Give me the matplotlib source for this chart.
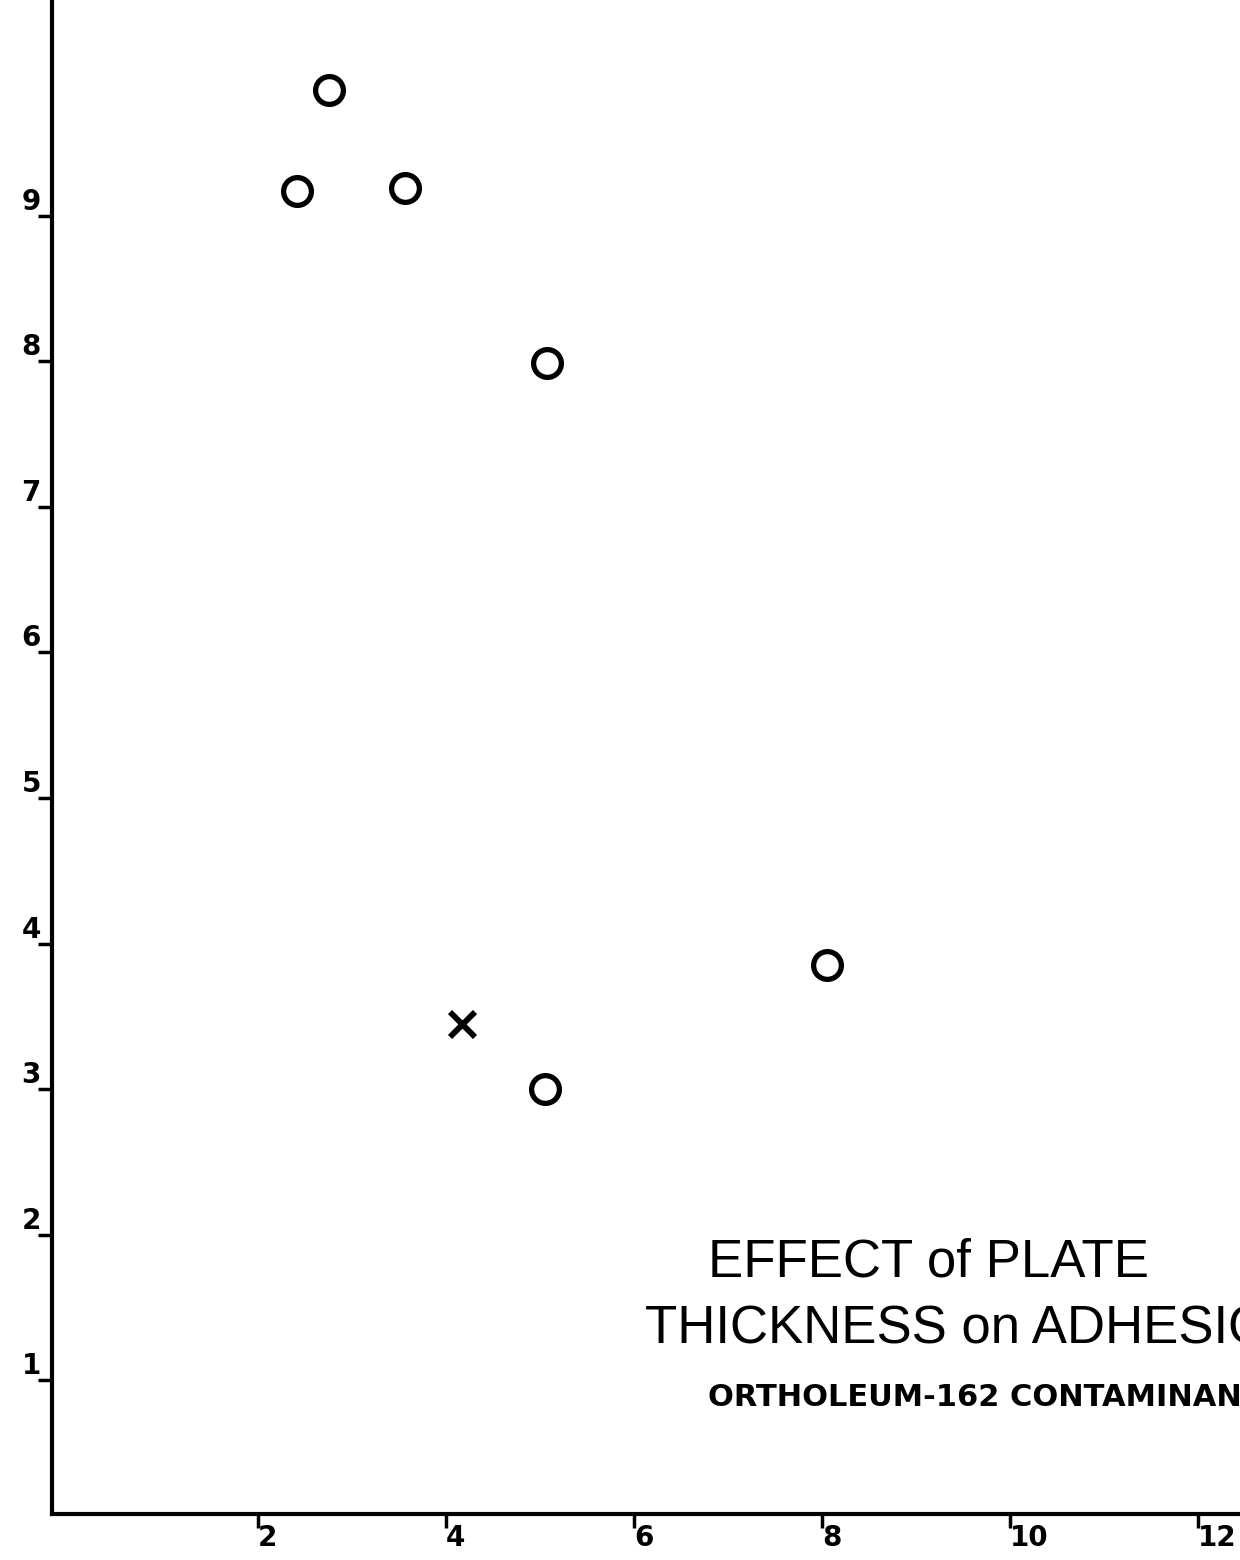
import matplotlib.pyplot as plt

# plate thickness vs adhesion
circle_x = [2.42, 2.76, 3.56, 5.07, 5.05, 8.05]
circle_y = [9.17, 9.86, 9.19, 7.99, 3.00, 3.85]
cross_x = [4.17]
cross_y = [3.45]

x_ticks = [2, 4, 6, 8, 10, 12]
y_ticks = [1, 2, 3, 4, 5, 6, 7, 8, 9]

fig = plt.figure(figsize=(12.4, 15.6), dpi=100)
# axes box: left edge at 52 px, bottom at 1514 px (scan is slightly tilted)
ax = fig.add_axes([52 / 1240, 46 / 1560, 1 - 52 / 1240, 1 - 46 / 1560])
ax.set_xlim(-18 / 94, 12.45 - 18 / 94 + 18 / 94)
ax.set_xlim(-18 / 94, (1240 - 70) / 94)
ax.set_ylim(12 / 145.6, 1526 / 145.6)

ax.plot(circle_x, circle_y, 'o', ms=20, mfc='white', mec='black', mew=3.8, clip_on=False)
ax.plot(cross_x, cross_y, 'x', ms=18, mec='black', mew=4.2, clip_on=False)

for s in ['top', 'right']:
    ax.spines[s].set_visible(False)
for s in ['left', 'bottom']:
    ax.spines[s].set_linewidth(3)

ax.set_xticks(x_ticks)
ax.set_yticks(y_ticks)
ax.set_xticklabels([str(v) for v in x_ticks])
ax.set_yticklabels([str(v) for v in y_ticks])
ax.tick_params(axis='both', direction='out', length=10, width=2.5, labelsize=20)
ax.tick_params(axis='y', pad=-2)
ax.tick_params(axis='x', pad=-3)
for lab in ax.get_yticklabels():
    lab.set_fontweight('bold')
    lab.set_va('bottom')
for lab in ax.get_xticklabels():
    lab.set_fontweight('bold')
    lab.set_ha('left')

ax.text(6.79, 1.81, 'EFFECT of PLATE', fontsize=38, family='Liberation Sans',
        va='center', ha='left', clip_on=False)
ax.text(6.12, 1.35, 'THICKNESS on ADHESION', fontsize=38, family='Liberation Sans',
        va='center', ha='left', clip_on=False)
ax.text(6.79, 0.88, 'ORTHOLEUM-162 CONTAMINANT', fontsize=22, fontweight='bold',
        va='center', ha='left', clip_on=False)

fig.savefig('out.png', dpi=100)
